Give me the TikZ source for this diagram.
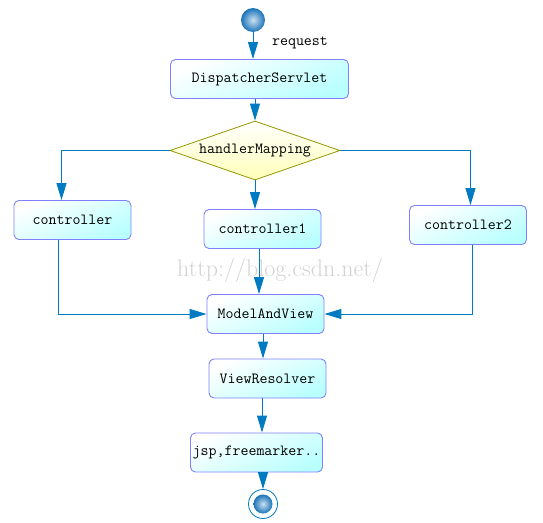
\documentclass[tikz,border=0pt]{standalone}
\usepackage{tikz}
\usetikzlibrary{shapes.geometric,arrows.meta}
\definecolor{flowblue}{RGB}{0,122,193}
\definecolor{boxline}{RGB}{128,128,255}
\definecolor{boxfill}{RGB}{185,255,255}
\definecolor{decline}{RGB}{150,150,0}
\definecolor{decfill}{RGB}{255,255,185}
\definecolor{balledge}{RGB}{25,115,185}
\definecolor{ballcore}{RGB}{205,225,240}

\begin{document}
\begin{tikzpicture}[
  x = 1pt, y = -1pt,
  every node/.style = {font = \ttfamily\fontsize{15.5}{18}\selectfont},
  stepbox/.style = {draw = boxline, line width = 0.9pt, rounded corners = 5pt,
                    minimum height = 39pt, inner sep = 0pt,
                    top color = white, bottom color = boxfill, shading angle = 25},
  decision/.style = {diamond, draw = decline, line width = 0.8pt, aspect = 2.88,
                     inner sep = 0pt, minimum width = 170pt, minimum height = 59pt,
                     top color = white, bottom color = decfill},
  dot/.style = {circle, inner sep = 0pt, inner color = ballcore, outer color = balledge},
  flow/.style = {draw = flowblue, line width = 1pt,
                 -{Triangle[width = 10pt, length = 17pt]}},
  ]
  \useasboundingbox (0,0) rectangle (543,522);

  \node[text = gray!35, font = \rmfamily\fontsize{24}{28}\selectfont] (mark) at (280,270) {http://blog.csdn.net/};

  \node[dot, minimum size = 24pt] (start) at (253,20) {};
  \node (req) at (300,43) {request};
  \node[stepbox, minimum width = 178pt] (ds) at (259.5,79) {DispatcherServlet};
  \node[decision] (hm) at (255,150.5) {handlerMapping};
  \node[stepbox, minimum width = 117pt] (ctrl) at (72.5,220) {controller};
  \node[stepbox, minimum width = 117pt] (ctrla) at (262.5,229) {controller1};
  \node[stepbox, minimum width = 117pt] (ctrlb) at (468,225) {controller2};
  \node[stepbox, minimum width = 117pt] (mav) at (265.5,314) {ModelAndView};
  \node[stepbox, minimum width = 117pt] (vr) at (267.5,378.5) {ViewResolver};
  \node[stepbox, minimum width = 132pt] (jsp) at (256.5,452.5) {jsp,freemarker..};
  \node[circle, draw = flowblue, line width = 0.8pt, fill = white,
        minimum size = 29pt, inner sep = 0pt] (finish) at (263,504) {};
  \node[dot, minimum size = 19pt] (finishdot) at (finish) {};

  \draw[flow] (start) -- (start |- ds.north);
  \draw[flow] (hm.north |- ds.south) -- (hm.north);
  \draw[flow] (hm.west) -| ([xshift = -11pt]ctrl.north);
  \draw[flow] (hm.south) -- (hm.south |- ctrla.north);
  \draw[flow] (hm.east) -| ([xshift = 2.5pt]ctrlb.north);
  \draw[flow] ([xshift = -14.5pt]ctrl.south) |- (mav.west);
  \draw[flow] ([xshift = -3.5pt]ctrla.south) -- ([xshift = -3.5pt]ctrla.south |- mav.north);
  \draw[flow] ([xshift = 4.5pt]ctrlb.south) |- (mav.east);
  \draw[flow] ([xshift = -2.5pt]mav.south) -- ([xshift = -2.5pt]mav.south |- vr.north);
  \draw[flow] ([xshift = -5.5pt]vr.south) -- ([xshift = -5.5pt]vr.south |- jsp.north);
  \draw[flow] (finish |- jsp.south) -- (finish);
\end{tikzpicture}
\end{document}
